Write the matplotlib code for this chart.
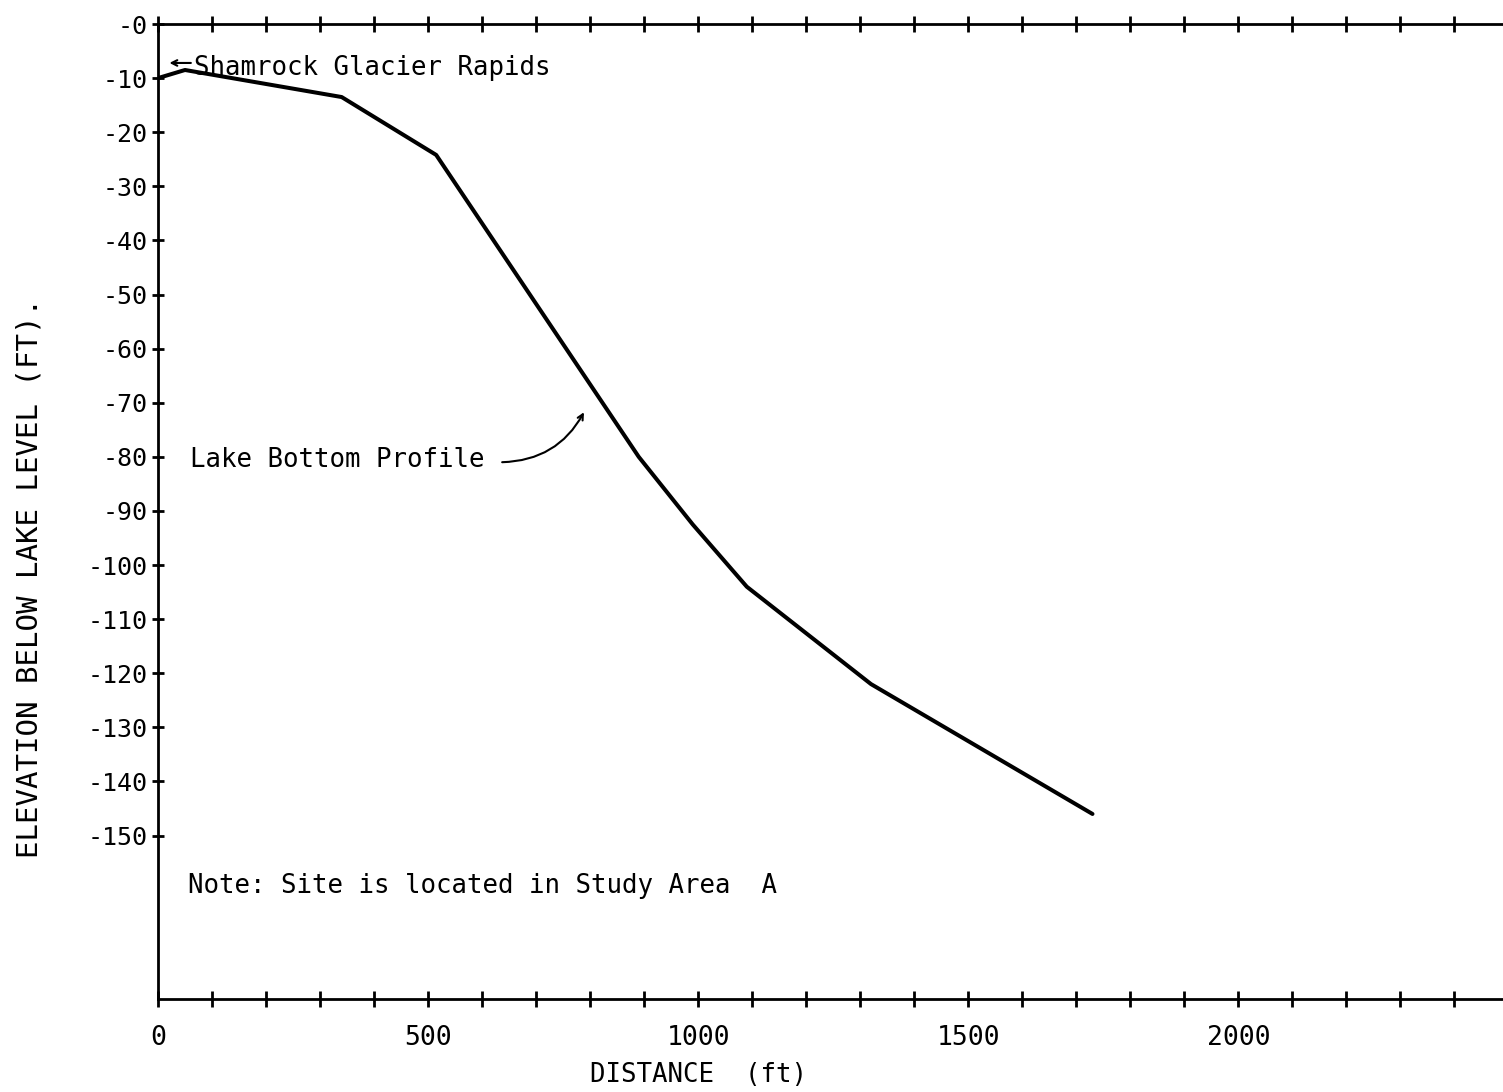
import matplotlib
matplotlib.use('Agg')
import matplotlib.pyplot as plt

# Lake bottom profile (distance in ft, elevation below lake level in ft)
distance = [0, 50, 340, 515, 890, 990, 1090, 1320, 1730]
elevation = [-10, -8.5, -13.5, -24.2, -80, -92.5, -104, -122, -146]

y_ticks = [0, -10, -20, -30, -40, -50, -60, -70, -80, -90, -100, -110, -120, -130, -140, -150]
y_labels = ['-0', '-10', '-20', '-30', '-40', '-50', '-60', '-70', '-80', '-90',
            '-100', '-110', '-120', '-130', '-140', '-150']
x_ticks = list(range(0, 2500, 100))
x_labels = ['0', '500', '1000', '1500', '2000']

plt.rcParams['font.family'] = ['DejaVu Sans Mono', 'DejaVu Sans']

fig = plt.figure(figsize=(15.03, 10.92), dpi=100)
ax = fig.add_axes([158 / 1503, 1 - 999 / 1092, 1 - 158 / 1503, (999 - 24) / 1092])

ax.plot(distance, elevation, color='black', linewidth=2.9, solid_capstyle='round',
        solid_joinstyle='round')

ax.set_xlim(0, 2490)
ax.set_ylim(-180.2, 0)

ax.set_xticks(x_ticks)
ax.set_xticklabels([str(t) if str(t) in x_labels else '' for t in x_ticks])
ax.set_yticks(y_ticks)
ax.set_yticklabels(y_labels)

ax.spines['right'].set_visible(False)
for s in ['left', 'top', 'bottom']:
    ax.spines[s].set_linewidth(2.0)

ax.tick_params(axis='x', direction='inout', length=12, width=2, labelsize=19,
               pad=13, top=True)
ax.tick_params(axis='y', direction='inout', length=9, width=2, labelsize=18, pad=3)

# annotations
ax.annotate('', xy=(16, -7.2), xytext=(66, -7.2),
            arrowprops=dict(arrowstyle='->', color='black', lw=1.5))
ax.text(66, -8.2, 'Shamrock Glacier Rapids', fontsize=18.5, va='center', ha='left')

ax.text(59, -80.5, 'Lake Bottom Profile', fontsize=18.5, va='center', ha='left')
ax.annotate('', xy=(791, -71.3), xytext=(632, -81),
            arrowprops=dict(arrowstyle='->', color='black', lw=1.5,
                            connectionstyle='arc3,rad=0.3'))

ax.text(55, -159.3, 'Note: Site is located in Study Area  A', fontsize=18.5,
        va='center', ha='left')

fig.text(698 / 1503, 1 - 1075 / 1092, 'DISTANCE  (ft)', fontsize=18.5,
         ha='center', va='center')
fig.text(30 / 1503, 1 - 578 / 1092, 'ELEVATION BELOW LAKE LEVEL (FT).', fontsize=21,
         rotation=90, ha='center', va='center')

fig.savefig('out.png', dpi=100)
